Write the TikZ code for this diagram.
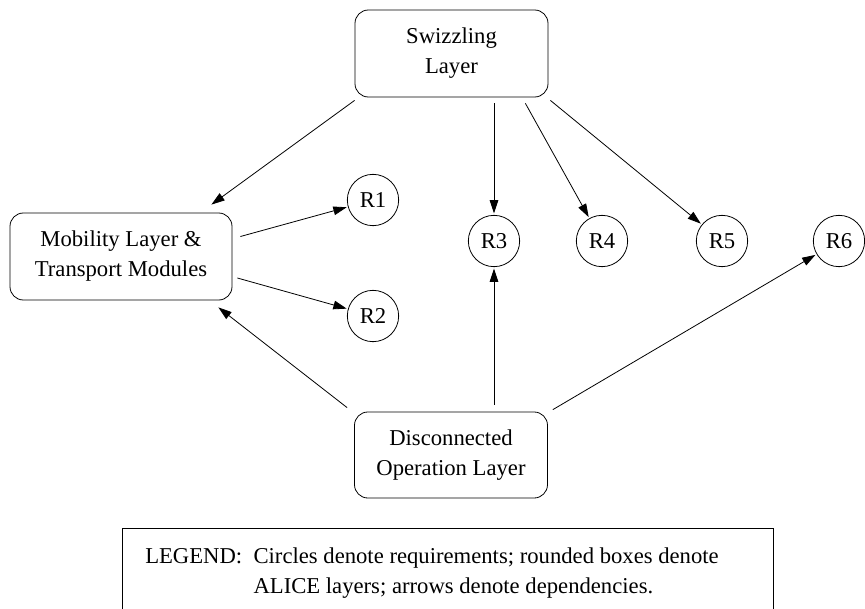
\documentclass[tikz,border=0pt]{standalone}
\usepackage{fontspec}
\setmainfont{Liberation Serif}
\usetikzlibrary{arrows.meta,calc}
\begin{document}
\begin{tikzpicture}[x=0.75pt,y=-0.75pt,
  txt/.style={font=\fontsize{17}{22.5}\selectfont},
  layerbox/.style={draw, rounded corners=10pt, align=center, inner sep=0pt, txt, line width=0.6pt},
  req/.style={draw, circle, minimum size=38.5pt, inner sep=0pt, txt, line width=0.6pt},
  dep/.style={-{Triangle[length=10pt,width=6.5pt]}, line width=0.6pt}]
\clip (0,0) rectangle (865,608);

% layers
\node[layerbox, minimum width=144.75pt, minimum height=65.25pt] (sw) at (451.5,53.5) {Swizzling\\Layer};
\node[layerbox, minimum width=166.5pt, minimum height=65.25pt] (mob) at (121,256.5) {Mobility Layer \&\\Transport Modules};
\node[layerbox, minimum width=144.75pt, minimum height=64.5pt] (dc) at (451,455) {Disconnected\\Operation Layer};

% requirements
\node[req] (r1) at (373,200) {R1};
\node[req] (r2) at (373,316) {R2};
\node[req] (r3) at (494,241) {R3};
\node[req] (r4) at (602,241) {R4};
\node[req] (r5) at (722,241) {R5};
\node[req] (r6) at (839,241) {R6};

% dependencies
\draw[dep] ($(sw.south west)+(0,3)$) -- ($(mob.north east)+(-21,-8)$);
\draw[dep] ($(mob.east)+(8,-20)$) -- ($(r1)!20.5pt!($(mob.east)+(8,-20)$)$);
\draw[dep] ($(mob.east)+(5,21.5)$) -- ($(r2)!20.5pt!($(mob.east)+(5,21.5)$)$);
\draw[dep] ($(r3 |- sw.south)+(0,6)$) -- ($(r3.north)+(0,-1.5)$);
\draw[dep] ($(sw.south east)+(-23,6)$) -- ($(r4)!20.5pt!($(sw.south east)+(-23,6)$)$);
\draw[dep] ($(sw.south east)+(2,3)$) -- ($(r5)!20.5pt!($(sw.south east)+(2,3)$)$);
\draw[dep] ($(dc.north west)+(-7,-4)$) -- ($(mob.south east)+(-14,7)$);
\draw[dep] ($(r3 |- dc.north)+(0,-7)$) -- ($(r3.south)+(0,1.5)$);
\draw[dep] ($(dc.north east)+(5,-2)$) -- ($(r6)!20.5pt!($(dc.north east)+(5,-2)$)$);

% legend
\node[draw, line width=0.6pt, anchor=north west, minimum width=488pt, minimum height=75pt, inner sep=0pt] (legend) at (122,528) {};
\node[txt, anchor=base west, align=left, inner sep=0pt] (legendtext) at ($(legend.north west)+(23,65)$)
  {LEGEND:\ \ Circles denote requirements; rounded boxes denote\\\phantom{LEGEND:\ \ }ALICE layers; arrows denote dependencies.};
\end{tikzpicture}
\end{document}
